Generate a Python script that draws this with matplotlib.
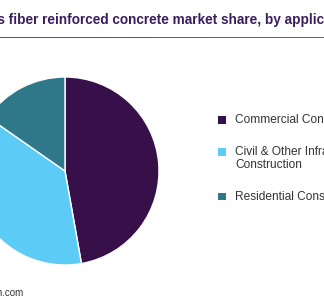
import matplotlib.pyplot as plt
import numpy as np
from matplotlib.patches import Rectangle
from matplotlib.colors import LinearSegmentedColormap

plt.rcParams['font.family'] = ['Liberation Sans', 'DejaVu Sans']

categories = ['Commercial Construction', 'Civil & Other Infrastructure\nConstruction', 'Residential Construction']
shares = [47.2, 37.5, 15.3]
colors = ['#381049', '#5ccbf5', '#2e7889']
title = 'Glass fiber reinforced concrete market share, by application, 2021 (%)'
source = 'Source: www.grandviewresearch.com'

W, H = 324, 300
fig = plt.figure(figsize=(W / 100, H / 100), dpi=100)

# pie, centre sits near the left edge (the picture is a crop)
cx, cy, r = 65, 171, 94
ax = fig.add_axes([(cx - r) / W, (H - cy - r) / H, 2 * r / W, 2 * r / H])
ax.pie(shares, colors=colors, startangle=90, counterclock=False,
       wedgeprops=dict(edgecolor='white', linewidth=1.0))
ax.set_xlim(-1, 1)
ax.set_ylim(-1, 1)
ax.set_aspect('auto')
ax.axis('off')

# title: size it so "fiber ... applic" spans x=9..324, "Glas" falls off the left
renderer = fig.canvas.get_renderer()
def width(s, size):
    t = fig.text(0, 0, s, fontsize=size, fontweight='bold')
    w = t.get_window_extent(renderer).width
    t.remove()
    return w

span = width('fiber reinforced concrete market share, by applic', 10)
tsize = 10 * 316 / span
pre = width('Glass ', tsize)
fig.text((9 - pre) / W, 1 - 24 / H, title, fontsize=tsize, fontweight='bold',
         color='#3b1d5e', ha='left', va='baseline')

# gradient rule under the title
lax = fig.add_axes([0, 1 - 38.5 / H, 1, 2 / H])
cmap = LinearSegmentedColormap.from_list('rule', ['#4a4fa8', '#7b52a3'])
lax.imshow(np.linspace(0, 1, 200)[None, :], aspect='auto', cmap=cmap)
lax.axis('off')

# legend
box_y = [120, 152, 196.5]
text_y = [120, 158.5, 196.5]
for cat, col, by, ty in zip(categories, colors, box_y, text_y):
    fig.patches.append(Rectangle((218 / W, 1 - (by + 3.5) / H), 7.5 / W, 7.5 / H,
                                 transform=fig.transFigure, facecolor=col, edgecolor='none'))
    fig.text(235 / W, 1 - ty / H, cat, fontsize=8.6, color='#333333',
             ha='left', va='center', linespacing=1.15)

fig.text(23 / W, 1 - 293 / H, source, fontsize=7, color='#333333',
         ha='right', va='center')

fig.savefig('out.png', dpi=100)
